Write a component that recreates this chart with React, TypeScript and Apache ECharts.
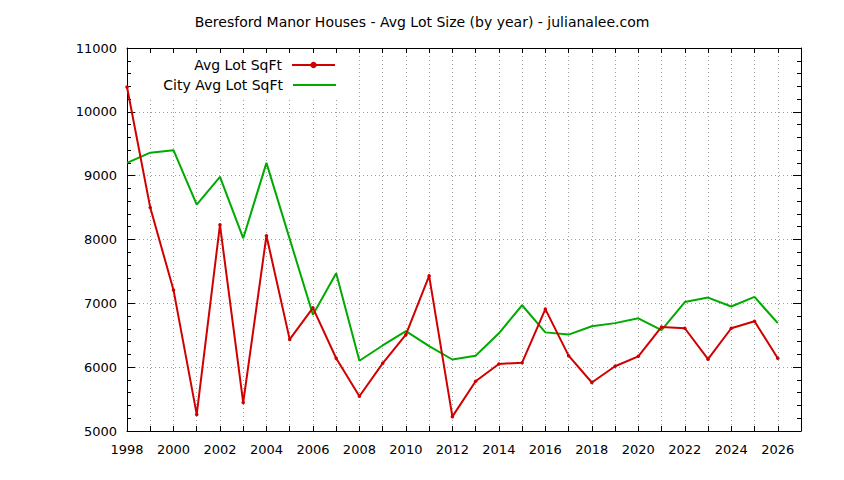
import { useEffect, useRef } from "react";
import * as echarts from "echarts";

// years on the x axis
const years = [
  1998, 1999, 2000, 2001, 2002, 2003, 2004, 2005, 2006, 2007, 2008, 2009, 2010,
  2011, 2012, 2013, 2014, 2015, 2016, 2017, 2018, 2019, 2020, 2021, 2022, 2023,
  2024, 2025, 2026,
];

// Beresford Manor average lot size
const avgLot = [
  10390, 8500, 7210, 5260, 8230, 5445, 8060, 6435, 6930, 6140, 5545, 6060, 6510,
  7430, 5225, 5780, 6050, 6070, 6910, 6180, 5760, 6015, 6170, 6630, 6610, 6125,
  6610, 6720, 6140,
];

// city-wide average lot size
const cityAvg = [
  9200, 9360, 9400, 8545, 8980, 8020, 9200, 8010, 6820, 7470, 6100, 6340, 6565,
  6330, 6120, 6180, 6530, 6970, 6545, 6510, 6640, 6690, 6765, 6580, 7020, 7090,
  6950, 7100, 6690,
];

const FONT = "DejaVu Sans";
const RED = "#d00000";
const GREEN = "#00aa00";
const gridDots = { color: "#a0a0a0", width: 1, type: [1, 3] as number[] };

export default function App() {
  const chartRef = useRef<HTMLDivElement>(null);

  useEffect(() => {
    if (!chartRef.current) return;
    const chart = echarts.init(chartRef.current, null, { renderer: "svg" });

    const axisLine = { show: true, lineStyle: { color: "#000", width: 1 } };
    const legendText = { fontFamily: FONT, fontSize: 14, color: "#000", padding: [0, 5, 0, 0] };

    const option = {
      animation: false,
      textStyle: { fontFamily: FONT },
      title: {
        text: "Beresford Manor Houses - Avg Lot Size (by year) - julianalee.com",
        left: "center",
        top: 10,
        textStyle: { fontFamily: FONT, fontSize: 14, fontWeight: "normal", color: "#000" },
      },
      grid: { left: 127, right: 43, top: 48, bottom: 49 },
      legend: [
        {
          data: ["Avg Lot SqFt"],
          right: 508,
          top: 58,
          orient: "vertical",
          align: "right",
          padding: 0,
          itemWidth: 43,
          itemHeight: 8,
          selectedMode: false,
          textStyle: legendText,
        },
        {
          data: [{ name: "City Avg Lot SqFt", icon: "rect" }],
          right: 508,
          top: 78,
          orient: "vertical",
          align: "right",
          padding: 0,
          itemWidth: 43,
          itemHeight: 2,
          selectedMode: false,
          textStyle: legendText,
        },
      ],
      graphic: [
        {
          type: "rect",
          z: 1,
          shape: { x: 136, y: 56, width: 204, height: 41 },
          style: { fill: "#fff" },
        },
      ],
      xAxis: [
        {
          type: "value",
          min: 1998,
          max: 2027,
          interval: 1,
          axisLine,
          axisTick: { show: true, inside: true, length: 5, lineStyle: { color: "#000" } },
          axisLabel: {
            color: "#000",
            fontFamily: FONT,
            fontSize: 13,
            margin: 12,
            formatter: (v: number) => (v % 2 === 0 && v < 2027 ? String(v) : ""),
          },
          splitLine: { show: true, lineStyle: gridDots },
        },
        {
          type: "value",
          position: "top",
          min: 1998,
          max: 2027,
          interval: 1,
          axisLine,
          axisTick: { show: true, inside: true, length: 5, lineStyle: { color: "#000" } },
          axisLabel: { show: false },
          splitLine: { show: false },
        },
      ],
      yAxis: [
        {
          type: "value",
          min: 5000,
          max: 11000,
          interval: 1000,
          axisLine,
          axisTick: { show: true, inside: true, length: 8, lineStyle: { color: "#000" } },
          minorTick: { show: true, splitNumber: 5, length: 4, lineStyle: { color: "#000" } },
          axisLabel: {
            color: "#000",
            fontFamily: FONT,
            fontSize: 13,
            margin: 10,
            formatter: (v: number) => String(v),
          },
          splitLine: { show: true, lineStyle: gridDots },
        },
        {
          type: "value",
          position: "right",
          min: 5000,
          max: 11000,
          interval: 1000,
          axisLine,
          axisTick: { show: true, inside: true, length: 8, lineStyle: { color: "#000" } },
          minorTick: { show: true, splitNumber: 5, length: 4, lineStyle: { color: "#000" } },
          axisLabel: { show: false },
          splitLine: { show: false },
        },
      ],
      series: [
        {
          name: "Avg Lot SqFt",
          type: "line",
          data: years.map((y, i) => [y, avgLot[i]]),
          symbol: "circle",
          symbolSize: 3.5,
          color: RED,
          lineStyle: { color: RED, width: 2 },
          itemStyle: { color: RED },
          z: 3,
        },
        {
          name: "City Avg Lot SqFt",
          type: "line",
          data: years.map((y, i) => [y, cityAvg[i]]),
          symbol: "none",
          color: GREEN,
          lineStyle: { color: GREEN, width: 2 },
          itemStyle: { color: GREEN },
          z: 2,
        },
      ],
    };

    chart.setOption(option as any);
    return () => {
      chart.dispose();
    };
  }, []);

  return (
    <div
      ref={chartRef}
      style={{ position: "absolute", left: 0, top: 0, width: 844, height: 480, background: "#fff" }}
    />
  );
}
